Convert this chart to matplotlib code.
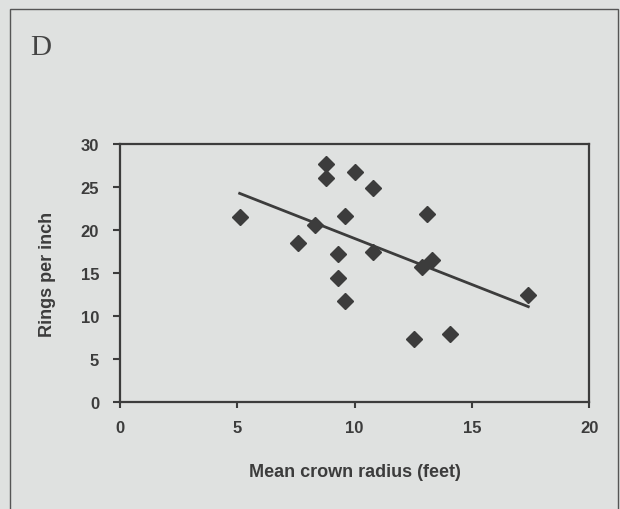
import numpy as np
import matplotlib
matplotlib.use("Agg")
import matplotlib.pyplot as plt

# Data
crown_radius = [5.1, 7.6, 8.3, 8.8, 8.8, 10.0, 9.6, 10.8, 9.3, 9.3, 9.6, 10.8,
                13.1, 12.85, 13.3, 17.4, 12.55, 14.05]
rings_per_inch = [21.5, 18.5, 20.65, 27.7, 26.0, 26.8, 21.6, 24.9, 17.2, 14.4, 11.8, 17.5,
                  21.9, 15.7, 16.5, 12.5, 7.3, 7.95]

x_ticks = [0, 5, 10, 15, 20]
y_ticks = [0, 5, 10, 15, 20, 25, 30]

bg = "#dfe1e0"
ink = "#3c3c3c"

fig = plt.figure(figsize=(6.2, 5.1), dpi=100, facecolor=bg)
ax = fig.add_axes([0.1935, 0.2092, 0.757, 0.5065])
ax.set_facecolor(bg)

# outer panel frame
frame = plt.Rectangle((0.016, -0.05), 0.98, 1.03, transform=fig.transFigure,
                      fill=False, edgecolor="#555555", linewidth=1.0)
fig.patches.append(frame)
fig.text(0.048, 0.905, "D", family="Liberation Serif", fontsize=21, color="#444444",
         va="center", ha="left")

ax.plot(crown_radius, rings_per_inch, linestyle="none", marker="D", markersize=8,
        color=ink, markeredgecolor=ink)

# least squares line
slope, intercept = np.polyfit(crown_radius, rings_per_inch, 1)
xs = np.array([min(crown_radius), max(crown_radius)])
ax.plot(xs, slope * xs + intercept, color=ink, linewidth=2)

ax.set_xlim(0, 20)
ax.set_ylim(0, 30)
ax.set_xticks(x_ticks)
ax.set_yticks(y_ticks)
for s in ax.spines.values():
    s.set_color(ink)
    s.set_linewidth(1.6)
ax.tick_params(colors=ink, width=1.5, length=4, labelsize=12)
ax.tick_params(axis="x", pad=9)
ax.tick_params(axis="y", length=5, pad=10)
for lab in ax.get_xticklabels() + ax.get_yticklabels():
    lab.set_fontweight("bold")
    lab.set_family("Liberation Sans")

ax.set_xlabel("Mean crown radius (feet)", fontsize=13, fontweight="bold",
              family="Liberation Sans", color=ink, labelpad=20)
ax.set_ylabel("Rings per inch", fontsize=13, fontweight="bold",
              family="Liberation Sans", color=ink, labelpad=18)

fig.savefig("out.png", dpi=100, facecolor=bg)
